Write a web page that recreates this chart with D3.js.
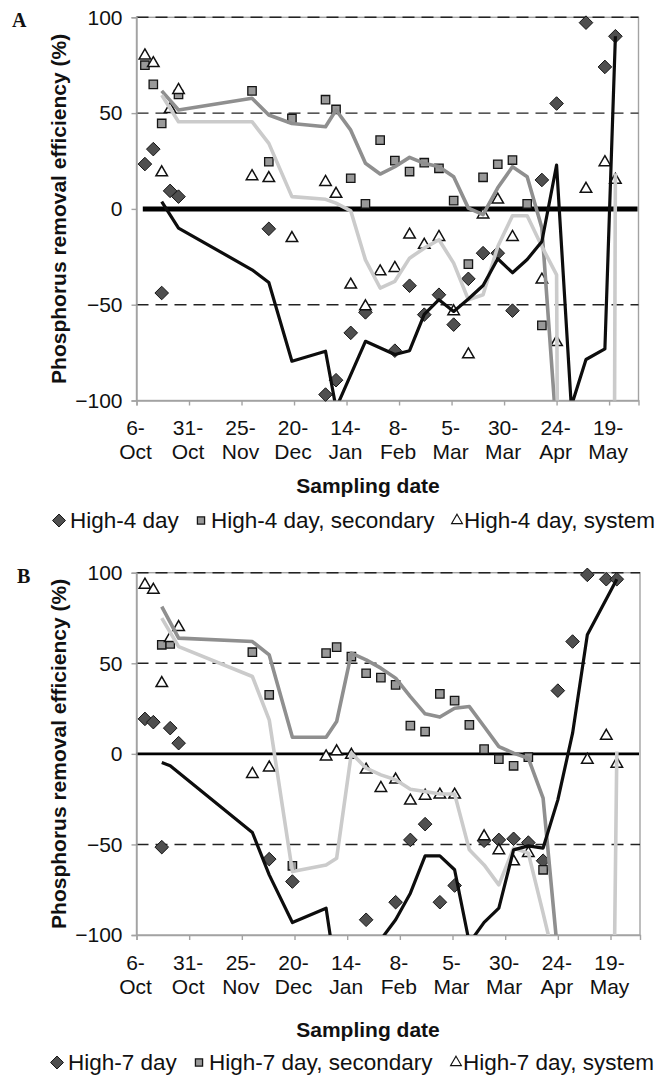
<!DOCTYPE html>
<html>
<head>
<meta charset="utf-8">
<script src="https://cdn.jsdelivr.net/npm/d3@7"></script>
<style>
  html, body { margin: 0; padding: 0; background: #fff; }
  svg { display: block; }
  text { font-family: "Liberation Sans", Arial, sans-serif; fill: #111; }
</style>
</head>
<body>
<svg id="chart" width="661" height="1082"></svg>
<script>
// Sampling dates shared by both reactors
const sampleDates = [
  "2004-10-10", "2004-10-14", "2004-10-18", "2004-10-22", "2004-10-26",
  "2004-11-30", "2004-12-08", "2004-12-19", "2005-01-04", "2005-01-09",
  "2005-01-16", "2005-01-23", "2005-01-30", "2005-02-06", "2005-02-13",
  "2005-02-20", "2005-02-27", "2005-03-06", "2005-03-13", "2005-03-20",
  "2005-03-27", "2005-04-03", "2005-04-10", "2005-04-17", "2005-04-24",
  "2005-05-01", "2005-05-08", "2005-05-17", "2005-05-22"
];

// Axis range and tick labels
const axisStart = "2004-10-06";
const axisEnd = "2005-06-02";
const tickDates = ["2004-10-06", "2004-10-31", "2004-11-25", "2004-12-20", "2005-01-14",
                   "2005-02-08", "2005-03-05", "2005-03-30", "2005-04-24", "2005-05-19"];
const tickLabels = ["6-Oct", "31-Oct", "25-Nov", "20-Dec", "14-Jan",
                    "8-Feb", "5-Mar", "30-Mar", "24-Apr", "19-May"];
const yTicks = [-100, -50, 0, 50, 100];
const yGrid = [100, 50, -50];

// ---- Reactor A: High-4 day ----
const high4 = [23.4, 31.2, -43.9, 9.4, 6.4, null, -10.4, null, -96.9, -89.4,
  -64.7, -54, null, -74, -40.1, -55.2, -44.8, -60.4, -36.5, -23.1,
  -23.1, -53.1, null, 15.1, 55, null, 97.2, 74.1, 90.1];
const high4Secondary = [75, 65, 44.6, null, 59.7, 61.6, 24.6, 47.2, 57, 51.9,
  16, 2.6, 35.9, 25.2, 19.5, 24.1, 21.2, 4.3, -28.8, 16.5,
  23.3, 25.5, 2.6, -60.8, null, null, null, null, null];
const high4System = [80, 76, 19, 52, 62, 17, 16, -15.3, 14, 7.8,
  -39.6, -50.9, -32.7, -30.9, -13.5, -18.8, -14.7, -53.5, -76, -3,
  4.8, -14.7, null, -37, -69.6, null, 10.4, 24.3, 15.1];
// trend lines
const high4Trend = [null, null, 3.8, null, -10, -31.8, -38.4, -79.5, -74.3, -104,
  null, -69.1, null, -76, -74, -55, -47.4, -53.5, -47, -40,
  -26, -33.3, -26.4, -17, 22.9, -103, -78.6, -73.1, 90.1];
const high4SecondaryTrend = [null, null, 61.6, null, 51.6, 57.7, 49, 44.6, 42.9, 51.6,
  41.1, 23.8, 18.2, 22, 26.9, 23.8, 22, 16.8, 0.4, -3,
  11, 22, 16.8, -10, -117, null, null, null, null];
const high4SystemTrend = [null, null, 59.4, null, 45.5, 45.5, 34.2, 6.4, 5, 3,
  -1, -26.6, -41.3, -37.8, -25.7, -20.5, -16.1, -28.3, -47.4, -44.8,
  -19.6, -3.6, -3.6, -19.6, -34.4, -1500, -1500, -1500, 18.6];

// ---- Reactor B: High-7 day ----
const high7 = [19.3, 17.5, -51.5, 14.2, 5.9, null, -58.1, -70.5, null, null,
  null, -91.6, null, -81.9, -47.5, -38.8, -81.9, -72.7, null, -48,
  -47.5, -46.9, -49, -59, 34.9, 62, 98.8, 96.4, 96.4];
const high7Secondary = [null, null, 60.2, 60.7, null, 56.1, 32.6, -61.8, 55.6, 58.9,
  53.7, 44.5, 42.1, 38.1, 15.6, 12.3, 33.1, 29.4, 16, 2.6,
  -2.9, -6.6, -1.8, -64, null, null, null, null, null];
const high7System = [93.3, 90.5, 39, 63.8, 69.9, -11.2, -7.6, null, -1.5, 1.3,
  -0.6, -8.8, -18.9, -14.3, -25.9, -23.2, -22.6, -22.6, null, -45.6,
  -53.3, -59.4, -54.8, null, null, null, -3.3, 9.9, -5.5];
const high7Trend = [null, null, -4.8, -6.6, null, -43.4, -66.8, -93.1, -85.2, -124,
  -140, -120, -102.5, -91.6, -76.9, -56.3, -56.3, -64, -104.4, -93,
  -85.2, -53, -50.8, -52, -25.4, 11.4, 65.7, null, 96.4];
const high7SecondaryTrend = [null, null, 81.3, null, 63.9, 62, 54.6, 9.2, 9.2, 17.8,
  55.6, 51.9, 47.3, 41.8, 31.6, 22.1, 20.3, 25.2, 26.1, 15.1,
  4, 0.4, -2.4, -24.4, -111, null, null, null, null];
const high7SystemTrend = [null, null, 74.9, null, 59.2, 42.7, 18.8, -65, -61.3, -57.6,
  0.4, -7.9, -11.6, -14.3, -19.5, -20.8, -22.2, -22.2, -53, -61.3,
  -72.3, -52, -54.8, -87.9, -122, -300, -400, -492, 1.3];

const parse = d3.utcParse("%Y-%m-%d");
const dates = sampleDates.map(parse);
const svg = d3.select("#chart");

// marker styles
const markerStyle = {
  diamond: { fill: "#4f4f4f", stroke: "#151515", sw: 1 },
  square: { fill: "#999999", stroke: "#151515", sw: 1.3 },
  triangle: { fill: "#ffffff", stroke: "#111111", sw: 1.5 }
};
const lineStyle = {
  black: { stroke: "#0d0d0d", width: 3.2 },
  dark: { stroke: "#8f8f8f", width: 3.6 },
  light: { stroke: "#cbcbcb", width: 3.6 }
};

function markerPath(kind, scale = 1) {
  if (kind === "diamond") {
    const r = 6.8 * scale;
    return `M0,${-r}L${r},0L0,${r}L${-r},0Z`;
  }
  if (kind === "square") {
    const s = 4.2 * scale;
    return `M${-s},${-s}H${s}V${s}H${-s}Z`;
  }
  const side = 11.5 * scale;
  const h = side * Math.sqrt(3) / 2;
  return `M0,${-h * 2 / 3}L${side / 2},${h / 3}L${-side / 2},${h / 3}Z`;
}

function drawPanel(cfg) {
  const x = d3.scaleUtc().domain([parse(axisStart), parse(axisEnd)]).range([cfg.left, cfg.right]);
  const y = d3.scaleLinear().domain([-100, 100]).range([cfg.bottom, cfg.top]);
  const g = svg.append("g");
  const clipId = "clip" + cfg.letter;
  g.append("clipPath").attr("id", clipId).append("rect")
    .attr("x", cfg.left).attr("y", cfg.top)
    .attr("width", cfg.right - cfg.left).attr("height", cfg.bottom - cfg.top);

  // plot frame
  g.append("rect")
    .attr("x", cfg.left).attr("y", cfg.top)
    .attr("width", cfg.right - cfg.left).attr("height", cfg.bottom - cfg.top)
    .attr("fill", "none").attr("stroke", "#a3a3a3").attr("stroke-width", 1.4);

  // dashed reference lines
  g.selectAll(".grid").data(yGrid).join("line")
    .attr("x1", cfg.left).attr("x2", cfg.right)
    .attr("y1", d => y(d)).attr("y2", d => y(d))
    .attr("stroke", "#222").attr("stroke-width", 1.4)
    .attr("stroke-dasharray", "12,7");

  // zero line
  g.append("line")
    .attr("x1", x(parse(cfg.zeroFrom))).attr("x2", cfg.right - 1)
    .attr("y1", y(0)).attr("y2", y(0))
    .attr("stroke", "#000").attr("stroke-width", cfg.zeroWidth);

  // y axis
  const yAxis = g.append("g").attr("transform", `translate(${cfg.left},0)`)
    .call(d3.axisLeft(y).tickValues(yTicks).tickSize(5).tickPadding(9).tickFormat(d3.format("d")));
  yAxis.select(".domain").attr("stroke", "#a3a3a3").attr("stroke-width", 1.4);
  yAxis.selectAll(".tick line").attr("stroke", "#a3a3a3").attr("stroke-width", 1.4);
  yAxis.selectAll(".tick text").attr("font-size", 21).attr("fill", "#111")
    .attr("font-family", "Liberation Sans, Arial, sans-serif");

  // x axis
  const xAxis = g.append("g").attr("transform", `translate(0,${cfg.bottom})`)
    .call(d3.axisBottom(x).tickValues(tickDates.map(parse)).tickSize(5).tickFormat(""));
  xAxis.select(".domain").attr("stroke", "#a3a3a3").attr("stroke-width", 1.4);
  xAxis.selectAll(".tick line").attr("stroke", "#a3a3a3").attr("stroke-width", 1.4);
  const lbl = g.selectAll(".xlbl").data(tickDates).join("text")
    .attr("text-anchor", "middle").attr("font-size", 21);
  lbl.append("tspan")
    .attr("x", (d, i) => x(parse(d)) - 1).attr("y", cfg.bottom + cfg.tick1)
    .text((d, i) => tickLabels[i].split("-")[0] + "-");
  lbl.append("tspan")
    .attr("x", (d, i) => x(parse(d)) - 1).attr("y", cfg.bottom + cfg.tick2)
    .text((d, i) => tickLabels[i].split("-")[1]);

  // axis titles
  g.append("text").attr("x", cfg.titleX).attr("y", cfg.titleY)
    .attr("text-anchor", "middle").attr("font-size", 21).attr("font-weight", "bold")
    .text("Sampling date");
  g.append("text")
    .attr("transform", `translate(${cfg.yTitleX},${(cfg.top + cfg.bottom) / 2}) rotate(-90)`)
    .attr("text-anchor", "middle").attr("font-size", 21).attr("font-weight", "bold")
    .text("Phosphorus removal efficiency (%)");

  // panel letter
  g.append("text").attr("x", cfg.letterX).attr("y", cfg.letterY)
    .style("font-family", "'Liberation Serif', 'Times New Roman', serif")
    .attr("font-size", 20).attr("font-weight", "bold").text(cfg.letter);

  // markers (drawn beneath the trend lines)
  cfg.series.forEach(s => {
    const pts = s.values.map((v, i) => ({ d: dates[i], v }))
      .filter(p => p.v !== null && p.v >= -100 && p.v <= 100);
    const st = markerStyle[s.kind];
    g.append("g").selectAll("path").data(pts).join("path")
      .attr("transform", p => `translate(${x(p.d)},${y(p.v)})`)
      .attr("d", markerPath(s.kind))
      .attr("fill", st.fill).attr("stroke", st.stroke).attr("stroke-width", st.sw)
      .attr("stroke-linejoin", "miter");
  });

  // trend lines
  const line = d3.line().x(p => x(p.d)).y(p => y(p.v));
  cfg.trends.forEach(t => {
    const pts = t.values.map((v, i) => ({ d: dates[i], v })).filter(p => p.v !== null);
    const st = lineStyle[t.style];
    g.append("path").attr("clip-path", `url(#${clipId})`)
      .attr("d", line(pts)).attr("fill", "none")
      .attr("stroke", st.stroke).attr("stroke-width", st.width)
      .attr("stroke-linejoin", "round").attr("stroke-linecap", "butt");
  });

  // legend
  const lg = g.append("g");
  cfg.series.forEach((s, i) => {
    const st = markerStyle[s.kind];
    const mx = cfg.legendMarkers[i];
    lg.append("path")
      .attr("transform", `translate(${mx},${cfg.legendY - 7.5})`)
      .attr("d", markerPath(s.kind, s.kind === "square" ? 0.85 : 0.95))
      .attr("fill", st.fill).attr("stroke", st.stroke).attr("stroke-width", s.kind === "triangle" ? 1.1 : st.sw);
    lg.append("text").attr("x", cfg.legendText[i]).attr("y", cfg.legendY)
      .attr("font-size", 22.5).text(s.name);
  });
}

drawPanel({
  letter: "A", letterX: 12, letterY: 27,
  left: 136.5, right: 638.5, top: 17.3, bottom: 400.5,
  zeroFrom: "2004-10-09", zeroWidth: 5,
  tick1: 34.5, tick2: 58, titleX: 368, titleY: 493, yTitleX: 66,
  legendY: 528, legendMarkers: [59, 201, 457], legendText: [70, 211, 464],
  series: [
    { name: "High-4 day", kind: "diamond", values: high4 },
    { name: "High-4 day, secondary", kind: "square", values: high4Secondary },
    { name: "High-4 day, system", kind: "triangle", values: high4System }
  ],
  trends: [
    { style: "dark", values: high4SecondaryTrend },
    { style: "light", values: high4SystemTrend },
    { style: "black", values: high4Trend }
  ]
});

drawPanel({
  letter: "B", letterX: 17, letterY: 583,
  left: 136.5, right: 640, top: 572.7, bottom: 935,
  zeroFrom: "2004-10-06", zeroWidth: 2.6,
  tick1: 35, tick2: 59, titleX: 368, titleY: 1037, yTitleX: 66,
  legendY: 1070, legendMarkers: [57, 199, 456], legendText: [68, 209, 463],
  series: [
    { name: "High-7 day", kind: "diamond", values: high7 },
    { name: "High-7 day, secondary", kind: "square", values: high7Secondary },
    { name: "High-7 day, system", kind: "triangle", values: high7System }
  ],
  trends: [
    { style: "dark", values: high7SecondaryTrend },
    { style: "light", values: high7SystemTrend },
    { style: "black", values: high7Trend }
  ]
});
</script>
</body>
</html>
